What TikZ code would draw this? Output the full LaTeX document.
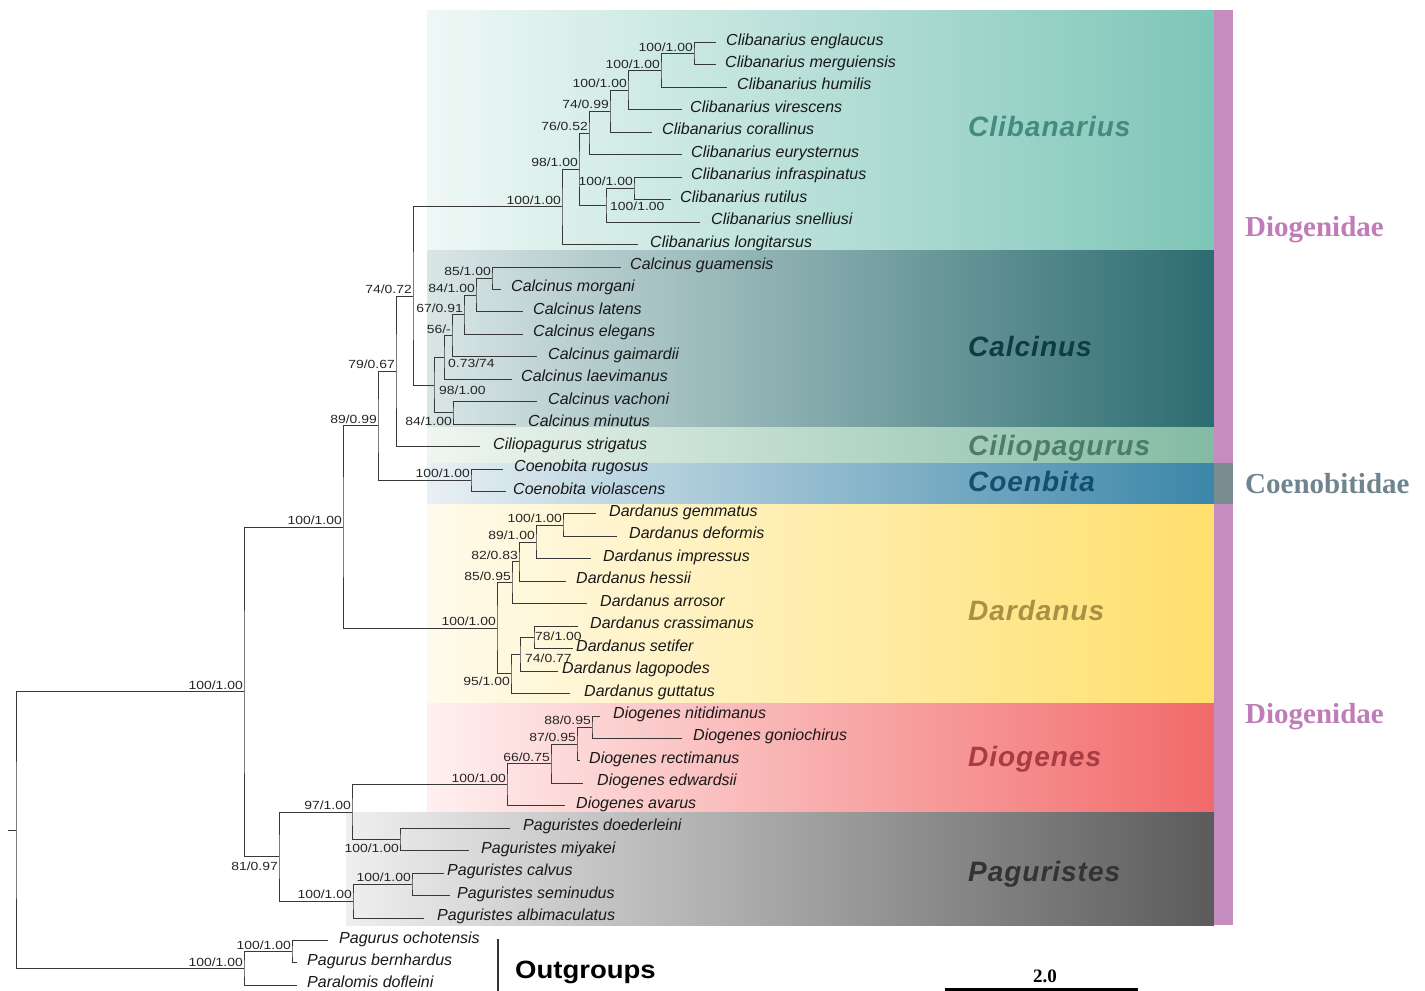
\documentclass[tikz,border=0pt]{standalone}
\usepackage{fontspec}
\setmainfont{Liberation Sans}
\newfontfamily\supfont[FakeStretch=1.18]{Liberation Sans}
\newfontfamily\cladefont[LetterSpace=3.5]{Liberation Sans}
\newfontfamily\famfont{Liberation Serif}
\newfontfamily\outfont[FakeStretch=1.1]{Liberation Sans}

\definecolor{clibL}{HTML}{EFF8F6}\definecolor{clibR}{HTML}{7EC6B8}
\definecolor{calcL}{HTML}{DAE6E6}\definecolor{calcR}{HTML}{2C6C70}
\definecolor{ciliL}{HTML}{EFF6F0}\definecolor{ciliR}{HTML}{83BBA3}
\definecolor{coenL}{HTML}{E8F0F4}\definecolor{coenR}{HTML}{3B86A9}
\definecolor{dardL}{HTML}{FFFBEC}\definecolor{dardR}{HTML}{FFDF6C}
\definecolor{diogL}{HTML}{FFF0F0}\definecolor{diogR}{HTML}{F26A6A}
\definecolor{pagL}{HTML}{EFEFEF}\definecolor{pagR}{HTML}{5B5B5B}
\definecolor{clibT}{HTML}{458A7E}
\definecolor{calcT}{HTML}{0E3C40}
\definecolor{ciliT}{HTML}{4C7C6C}
\definecolor{coenT}{HTML}{14506E}
\definecolor{dardT}{HTML}{A89044}
\definecolor{diogT}{HTML}{A83C40}
\definecolor{pagT}{HTML}{333333}
\definecolor{pinkbar}{HTML}{C48CBF}
\definecolor{greybar}{HTML}{7A8C92}
\definecolor{famPink}{HTML}{C07CB8}
\definecolor{famGrey}{HTML}{6E848E}

\begin{document}
\begin{tikzpicture}[x=1pt,y=-1pt,
  branch/.style={line width=1pt, draw=black!78},
  leaf/.style={font=\fontsize{16}{19}\selectfont\itshape, anchor=base west, inner sep=0pt, text=black!90},
  supb/.style={font=\supfont\fontsize{11.8}{14}\selectfont, inner sep=0pt, text=black!85},
  sup/.style={supb, anchor=base east, xshift=-1pt, yshift=2.5pt},
  clade/.style={font=\cladefont\fontsize{28}{32}\selectfont\bfseries\itshape, anchor=base west, inner sep=0pt},
  fam/.style={font=\famfont\fontsize{29}{32}\selectfont\bfseries, anchor=base west, inner sep=0pt}]
\useasboundingbox (0,0) rectangle (1425,991);

% clade boxes
\shade[left color=clibL, right color=clibR] (427,10) rectangle (1214,250);
\shade[left color=calcL, right color=calcR] (427,250) rectangle (1214,427);
\shade[left color=ciliL, right color=ciliR] (427,427) rectangle (1214,463);
\shade[left color=coenL, right color=coenR] (427,463) rectangle (1214,504);
\shade[left color=dardL, right color=dardR] (427,504) rectangle (1214,703);
\shade[left color=diogL, right color=diogR] (427,703) rectangle (1214,812);
\shade[left color=pagL, right color=pagR] (346,812) rectangle (1214,925);
\fill[pinkbar] (1214,10) rectangle (1233,463);
\fill[greybar] (1214,463) rectangle (1233,504);
\fill[pinkbar] (1214,504) rectangle (1233,925);

% leaves: tip x / label x / name / text
\foreach \tx/\lx/\nm/\txt [count=\i] in {
  716/726/eng/Clibanarius englaucus, 716/725/mer/Clibanarius merguiensis,
  727/737/hum/Clibanarius humilis, 682/690/vir/Clibanarius virescens,
  652/662/cor/Clibanarius corallinus, 682/691/eur/Clibanarius eurysternus,
  682/691/inf/Clibanarius infraspinatus, 671/680/rut/Clibanarius rutilus,
  700/711/sne/Clibanarius snelliusi, 638/650/lon/Clibanarius longitarsus,
  621/630/gua/Calcinus guamensis, 501/511/mor/Calcinus morgani,
  523/533/lat/Calcinus latens, 523/533/ele/Calcinus elegans,
  537/548/gai/Calcinus gaimardii, 512/521/lae/Calcinus laevimanus,
  537/548/vac/Calcinus vachoni, 516/528/min/Calcinus minutus,
  480/493/cil/Ciliopagurus strigatus,
  503/514/rug/Coenobita rugosus, 506/513/vio/Coenobita violascens,
  596/609/gem/Dardanus gemmatus, 617/629/def/Dardanus deformis,
  591/603/imp/Dardanus impressus, 566/576/hes/Dardanus hessii,
  587/600/arr/Dardanus arrosor, 578/590/cra/Dardanus crassimanus,
  573/576/set/Dardanus setifer, 558/562/lag/Dardanus lagopodes,
  570/584/gut/Dardanus guttatus,
  600/613/nit/Diogenes nitidimanus, 682/693/gon/Diogenes goniochirus,
  580/589/rec/Diogenes rectimanus, 583/597/edw/Diogenes edwardsii,
  565/576/ava/Diogenes avarus,
  510/523/doe/Paguristes doederleini, 469/481/miy/Paguristes miyakei,
  444/447/cal/Paguristes calvus, 450/457/sem/Paguristes seminudus,
  424/437/alb/Paguristes albimaculatus,
  328/339/och/Pagurus ochotensis, 297/307/ber/Pagurus bernhardus,
  297/307/par/Paralomis dofleini}
{
  \coordinate (\nm) at (\tx,{42.5+22.45*(\i-1)});
  \node[leaf] (\nm-t) at (\lx,{45+22.45*(\i-1)}) {\txt};
}

% internal nodes
\coordinate (nA) at (694,53.73);
\coordinate (nB) at (661,70.56);
\coordinate (nC) at (628,90.2);
\coordinate (nD) at (610,111.25);
\coordinate (nE) at (589,133.0);
\coordinate (nF) at (634,188.43);
\coordinate (nG) at (606,205.26);
\coordinate (nH) at (579,169.13);
\coordinate (nI) at (562,206.84);
\coordinate (nCa) at (492,278.23);
\coordinate (nCb) at (476,295.06);
\coordinate (nCc) at (464,314.7);
\coordinate (nCd) at (452,335.75);
\coordinate (nCe) at (444,357.5);
\coordinate (nCf) at (453,412.93);
\coordinate (nCg) at (434,385.2);
\coordinate (nJ) at (413,296.02);
\coordinate (nK) at (396,371.31);
\coordinate (nM) at (471,480.28);
\coordinate (nL) at (378,425.8);
\coordinate (nDa) at (563,525.18);
\coordinate (nDb) at (536,542.0);
\coordinate (nDc) at (519,561.65);
\coordinate (nDd) at (512,582.7);
\coordinate (nDe) at (534,637.43);
\coordinate (nDf) at (520,654.26);
\coordinate (nDg) at (511,673.9);
\coordinate (nDh) at (497,628.3);
\coordinate (nN) at (343,527.05);
\coordinate (nGa) at (592,727.23);
\coordinate (nGb) at (577,744.06);
\coordinate (nGc) at (551,763.7);
\coordinate (nGd) at (507,784.75);
\coordinate (nPa) at (400,839.48);
\coordinate (nPe) at (352,812.1);
\coordinate (nPb) at (412,884.38);
\coordinate (nPc) at (353,901.2);
\coordinate (nPf) at (279,856.65);
\coordinate (nQ) at (244,691.85);
\coordinate (nOa) at (292,951.73);
\coordinate (nO) at (244,968.56);
\coordinate (root) at (16,830.2);
\coordinate (rstub) at (8,830.2);

% branches: parent / upper child / lower child
\foreach \p/\a/\b in {nA/eng/mer, nB/nA/hum, nC/nB/vir, nD/nC/cor, nE/nD/eur,
  nF/inf/rut, nG/nF/sne, nH/nE/nG, nI/nH/lon,
  nCa/gua/mor, nCb/nCa/lat, nCc/nCb/ele, nCd/nCc/gai, nCe/nCd/lae,
  nCf/vac/min, nCg/nCe/nCf, nJ/nI/nCg, nK/nJ/cil, nM/rug/vio, nL/nK/nM,
  nDa/gem/def, nDb/nDa/imp, nDc/nDb/hes, nDd/nDc/arr, nDe/cra/set,
  nDf/nDe/lag, nDg/nDf/gut, nDh/nDd/nDg, nN/nL/nDh,
  nGa/nit/gon, nGb/nGa/rec, nGc/nGb/edw, nGd/nGc/ava,
  nPa/doe/miy, nPe/nGd/nPa, nPb/cal/sem, nPc/nPb/alb, nPf/nPe/nPc,
  nQ/nN/nPf, nOa/och/ber, nO/nOa/par, root/nQ/nO}
  \draw[branch] (\a) -| (\p) |- (\b);
\draw[branch] (rstub) -- (root);

% support values
\foreach \p/\bs/\pp in {nA/100/1.00, nB/100/1.00, nC/100/1.00, nD/74/0.99,
  nE/76/0.52, nF/100/1.00, nH/98/1.00, nI/100/1.00, nCa/85/1.00, nCb/84/1.00,
  nCc/67/0.91, nCd/56/-, nJ/74/0.72, nK/79/0.67, nM/100/1.00, nL/89/0.99,
  nDa/100/1.00, nDb/89/1.00, nDc/82/0.83, nDd/85/0.95, nDh/100/1.00,
  nN/100/1.00, nGa/88/0.95, nGb/87/0.95, nGc/66/0.75, nGd/100/1.00,
  nPe/97/1.00, nPb/100/1.00, nPc/100/1.00, nQ/100/1.00, nOa/100/1.00,
  nO/100/1.00}
  \node[sup] (s\p) at (\p) {\bs/\pp};
\node[supb, anchor=base west] (snG) at (610,210) {100/1.00};
\node[supb, anchor=base west] (snCe) at (448,367.3) {0.73/74};
\node[supb, anchor=base east] (snCf) at (452,425.7) {84/1.00};
\node[supb, anchor=base west] (snCg) at (439,394) {98/1.00};
\node[supb, anchor=base west] (snDe) at (535,640) {78/1.00};
\node[supb, anchor=base west] (snDf) at (525,662.3) {74/0.77};
\node[supb, anchor=base east] (snDg) at (510,685) {95/1.00};
\node[supb, anchor=base east] (snPa) at (399,852.7) {100/1.00};
\node[supb, anchor=base east] (snPf) at (278,870) {81/0.97};

% genus labels
\node[clade, text=clibT] (gClib) at (968,136.7) {Clibanarius};
\node[clade, text=calcT] (gCalc) at (968,356.7) {Calcinus};
\node[clade, text=ciliT] (gCili) at (968,455) {Ciliopagurus};
\node[clade, text=coenT] (gCoen) at (968,491.7) {Coenbita};
\node[clade, text=dardT] (gDard) at (968,620.7) {Dardanus};
\node[clade, text=diogT] (gDiog) at (968,766.7) {Diogenes};
\node[clade, text=pagT] (gPag) at (968,881.7) {Paguristes};

% family labels
\node[fam, text=famPink] (fDiog1) at (1245,236.7) {Diogenidae};
\node[fam, text=famGrey] (fCoen) at (1245,493.3) {Coenobitidae};
\node[fam, text=famPink] (fDiog2) at (1245,723.3) {Diogenidae};

% outgroups
\coordinate (obarT) at (498,939);
\coordinate (obarB) at (498,991);
\draw[line width=2.5pt, black!80] (obarT) -- (obarB);
\node[font=\outfont\fontsize{25}{28}\selectfont\bfseries, anchor=base west, inner sep=0pt] (outg) at (515,978) {Outgroups};

% scale bar
\coordinate (sbL) at (945,989.3);
\coordinate (sbR) at (1138,989.3);
\draw[line width=3pt] (sbL) -- (sbR);
\node[font=\famfont\fontsize{19}{22}\selectfont\bfseries, anchor=base, inner sep=0pt] (sbT) at (1045,982.5) {2.0};
\end{tikzpicture}
\end{document}
